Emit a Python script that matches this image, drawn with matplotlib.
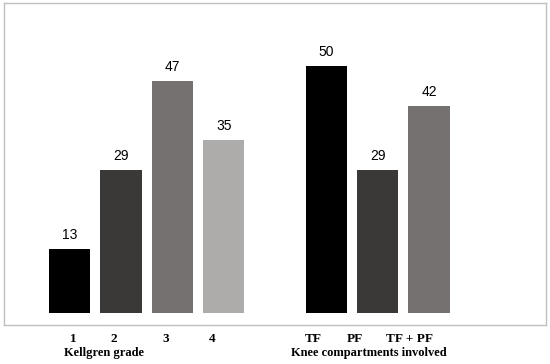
import matplotlib.pyplot as plt

# data
grade_labels = ['1', '2', '3', '4']
grade_counts = [13, 29, 47, 35]
comp_labels = ['TF', 'PF', 'TF + PF']
comp_counts = [50, 29, 42]

grade_colors = ['#000000', '#3b3838', '#767171', '#aeabab']
comp_colors = ['#000000', '#3b3838', '#767171']

grade_pos = [0, 1, 2, 3]
comp_pos = [5, 6, 7]

fig = plt.figure(figsize=(5.5, 3.64), dpi=100)
ax = fig.add_axes([4 / 550, 39 / 364, 542 / 550, 322 / 364])

ax.bar(grade_pos, grade_counts, width=0.8, color=grade_colors)
ax.bar(comp_pos, comp_counts, width=0.8, color=comp_colors)

for x, v in zip(grade_pos + comp_pos, grade_counts + comp_counts):
    ax.annotate(str(v), (x, v), xytext=(0, 5), textcoords='offset points',
                ha='center', va='bottom', fontsize=10, family='Liberation Sans')

ax.set_xlim(-1.28, 9.28)
ax.set_ylim(-2.43, 62.75)

for s in ax.spines.values():
    s.set_color('#bfbfbf')
    s.set_linewidth(1)

# tick labels sit a little left of the bars in the original
tick_pos = [0.07, 0.85, 1.88, 2.78, 4.75, 5.55, 6.62]
ax.set_xticks(tick_pos, grade_labels + comp_labels)
ax.tick_params(axis='x', length=0, pad=6)
for t in ax.get_xticklabels():
    t.set_fontfamily('Liberation Serif')
    t.set_fontweight('bold')
    t.set_fontsize(9.5)
ax.set_yticks([])

ax.text(0.67, -0.088, 'Kellgren grade', transform=ax.get_xaxis_transform(),
        ha='center', va='center', fontsize=9, fontweight='bold',
        family='Liberation Serif')
ax.text(5.82, -0.088, 'Knee compartments involved', transform=ax.get_xaxis_transform(),
        ha='center', va='center', fontsize=9, fontweight='bold',
        family='Liberation Serif')

plt.savefig('out.png', dpi=100)
